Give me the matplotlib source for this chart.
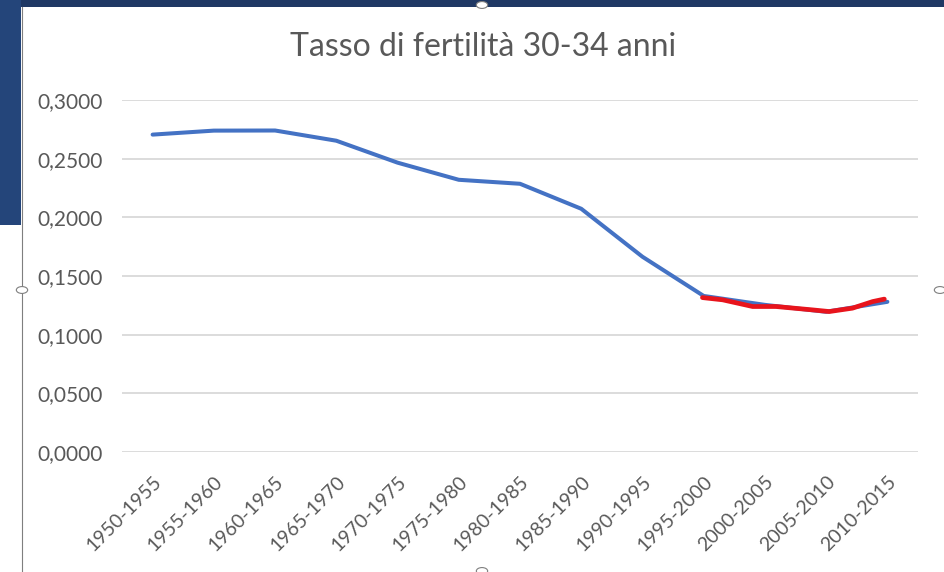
import matplotlib.pyplot as plt
from matplotlib.patches import Rectangle, Circle
from matplotlib.transforms import ScaledTranslation
import numpy as np

plt.rcParams['font.family'] = ['Lato', 'DejaVu Sans']

periods = ['1950-1955', '1955-1960', '1960-1965', '1965-1970', '1970-1975',
           '1975-1980', '1980-1985', '1985-1990', '1990-1995', '1995-2000',
           '2000-2005', '2005-2010', '2010-2015']
rate = [0.2705, 0.2739, 0.2740, 0.2653, 0.2466, 0.2320, 0.2286,
        0.2073, 0.1664, 0.1330, 0.1254, 0.1195, 0.1280]

# red hand-drawn overlay (positions in category units)
red_pos = [8.98, 9.31, 9.80, 10.18, 10.78, 11.05, 11.43, 11.76, 11.95]
red_val = [0.1316, 0.1297, 0.1240, 0.1240, 0.1211, 0.1197, 0.1226, 0.1282, 0.1303]

yticks = [0.0, 0.05, 0.10, 0.15, 0.20, 0.25, 0.30]

fig = plt.figure(figsize=(9.44, 5.72), dpi=100)
fig.patch.set_facecolor('white')

# slide background peeking around the chart
fig.patches.append(Rectangle((0, 1 - 7/572), 1, 7/572, transform=fig.transFigure,
                             facecolor='#1F3864', edgecolor='none', zorder=0))
fig.patches.append(Rectangle((0, 1 - 225/572), 21/944, 225/572, transform=fig.transFigure,
                             facecolor='#24457A', edgecolor='none', zorder=0))
fig.lines.append(plt.Line2D([21.5/944, 21.5/944], [0, 1 - 7/572], transform=fig.transFigure,
                            color='#7F7F7F', lw=0.8))
for hx, hy in [(482, 5), (22, 290), (940, 290), (482, 571)]:
    fig.patches.append(Circle((hx/944, 1 - hy/572), 0.006, transform=fig.transFigure,
                              facecolor='white', edgecolor='#7F7F7F', lw=0.8, zorder=3))

ax = fig.add_axes([122/944, 1 - 452/572, 796/944, 352/572])
x = np.arange(len(periods))
ax.plot(x, rate, color='#4472C4', lw=2.9, solid_capstyle='round', zorder=3)
ax.plot(red_pos, red_val, color='#E8141C', lw=3.4, solid_capstyle='round', zorder=4)

ax.set_xlim(-0.5, len(periods) - 0.5)
ax.set_ylim(0, 0.3)
ax.set_yticks(yticks)
ax.set_yticklabels([('%.4f' % v).replace('.', ',') for v in yticks],
                   fontsize=15, color='#595959')
ax.set_xticks(x)
ax.set_xticklabels(periods, rotation=45, ha='right', rotation_mode='anchor',
                   fontsize=14, color='#595959')
shift = ScaledTranslation(-6/100, 0, fig.dpi_scale_trans)
for lab in ax.get_xticklabels():
    lab.set_transform(lab.get_transform() + shift)
ax.tick_params(axis='both', length=0)
ax.tick_params(axis='y', pad=14)
ax.tick_params(axis='x', pad=15)
ax.grid(axis='y', color='#D9D9D9', lw=1.3)
ax.set_axisbelow(True)
for s in ax.spines.values():
    s.set_visible(False)

fig.text(483/944, 1 - 47/572, 'Tasso di fertilità 30-34 anni', ha='center', va='center',
         fontsize=23, color='#595959')

plt.savefig('out.png', dpi=100)
